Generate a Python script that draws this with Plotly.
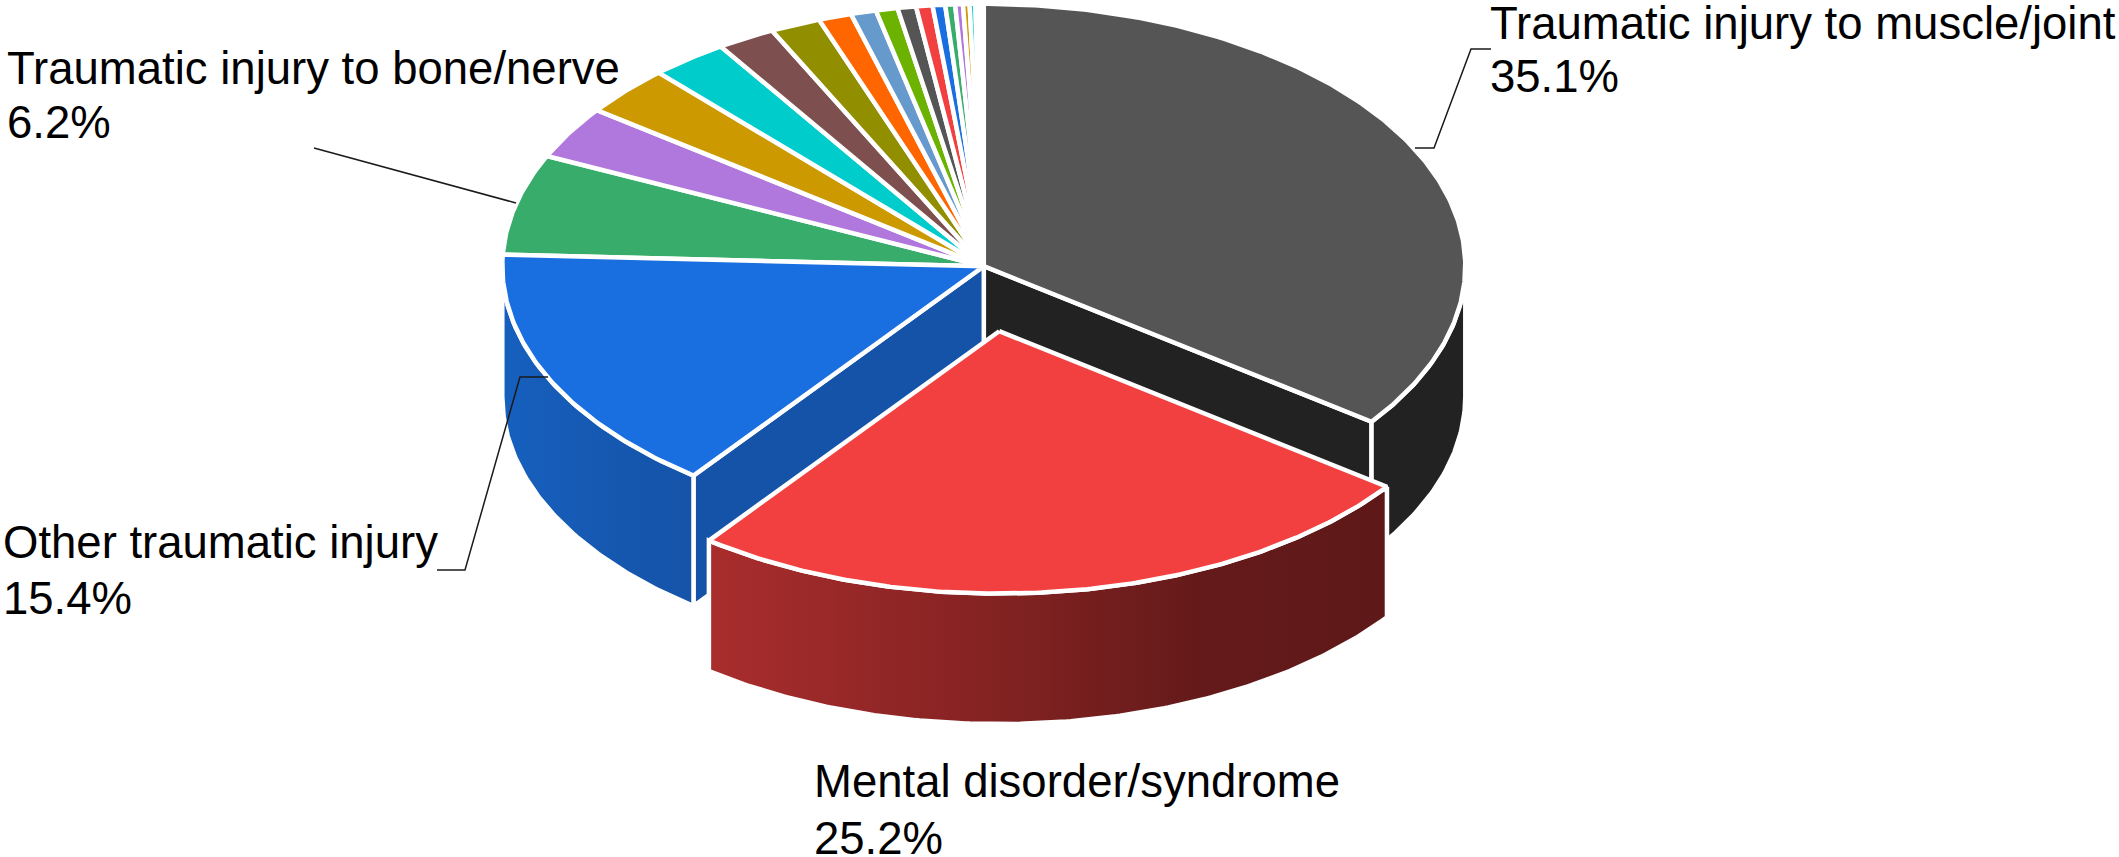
import numpy as np
import plotly.graph_objects as go

W, H = 2119, 857

# Share of each category, clockwise from twelve o'clock
values = [35.1, 25.2, 15.4, 6.2, 3.24, 3.06, 2.6, 1.95, 1.69, 1.11, 0.85, 0.73,
          0.62, 0.55, 0.42, 0.33, 0.26, 0.22, 0.19, 0.09, 0.09, 0.1]
top_colors = ["#555555", "#F24040", "#1A6FE0", "#38AD6B", "#B077DD", "#CC9900",
              "#00CCCC", "#7D4F4F", "#918F00", "#FF6600", "#6699CC", "#6BB300",
              "#555555", "#F24040", "#1A6FE0", "#38AD6B", "#B077DD", "#CC9900",
              "#00CCCC", "#7D4F4F", "#918F00", "#FF6600"]
label_names = ["Traumatic injury to muscle/joint", "Mental disorder/syndrome",
               "Other traumatic injury", "Traumatic injury to bone/nerve"]
label_left = [1488, 812, 1, 5]
label_name_y = [23, 781, 542, 68]
label_value_y = [76, 838, 598, 122]

# Projection of the pie disc, in units of the disc radius
RADIUS_PX = 481.5
CENTER_PX = (983.8, 266.2)
TILT = 0.545
DEPTH = 0.271
RED_SHIFT = (0.032, -0.135)
EDGE = "#FFFFFF"
EDGE_W = 4.5


def to_x(px):
    return (px - CENTER_PX[0]) / RADIUS_PX


def to_y(py):
    return (CENTER_PX[1] - py) / RADIUS_PX


def rim(a0, a1, shift=(0, 0), drop=0.0):
    t = np.radians(np.linspace(a0, a1, max(int(abs(a1 - a0) * 2), 2) + 1))
    return np.sin(t) + shift[0], np.cos(t) * TILT + shift[1] - drop


def closed(*parts):
    xs = np.concatenate([np.atleast_1d(p[0]) for p in parts])
    ys = np.concatenate([np.atleast_1d(p[1]) for p in parts])
    return np.append(xs, xs[0]), np.append(ys, ys[0])


def add_poly(fig, x, y, color=None, gradient=None, name=None):
    style = dict(fillgradient=gradient) if gradient else dict(fillcolor=color)
    fig.add_trace(go.Scatter(x=x, y=y, mode="lines", fill="toself",
                             line=dict(color=EDGE, width=EDGE_W),
                             hoverinfo="skip", name=name, **style))


def top_face(fig, a0, a1, color, shift=(0, 0)):
    rx, ry = rim(a0, a1, shift)
    x, y = closed((shift[0], shift[1]), (rx, ry))
    add_poly(fig, x, y, color)


def outer_wall(fig, a0, a1, color=None, gradient=None, shift=(0, 0)):
    tx, ty = rim(a0, a1, shift)
    bx, by = rim(a1, a0, shift, DEPTH)
    x, y = closed((tx, ty), (bx, by))
    add_poly(fig, x, y, color, gradient)


def cut_wall(fig, a, color):
    ex, ey = rim(a, a)
    x = [0, ex[0], ex[0], 0, 0]
    y = [0, ey[0], ey[0] - DEPTH, -DEPTH, 0]
    add_poly(fig, x, y, color)


fracs = np.cumsum([0] + values) / sum(values) * 360
fig = go.Figure()

# Slices along the back have no visible side
for i in range(3, len(values)):
    top_face(fig, fracs[i], fracs[i + 1], top_colors[i])

# Largest slice, with the cut face left open by the pulled-out slice
cut_wall(fig, fracs[1], "#222222")
outer_wall(fig, 90, fracs[1], "#222222")
top_face(fig, fracs[0], fracs[1], top_colors[0])

# Blue slice and its shaded side
cut_wall(fig, fracs[2], "#1453A8")
outer_wall(fig, fracs[2], 270, gradient=dict(
    type="horizontal",
    colorscale=[[0, "#1660BE"], [0.5, "#1659B2"], [1, "#1453A8"]]))
top_face(fig, fracs[2], fracs[3], top_colors[2])

# Pulled-out red slice, drawn last so it sits in front
outer_wall(fig, fracs[1], fracs[2], shift=RED_SHIFT, gradient=dict(
    type="horizontal",
    colorscale=[[0, "#A92D2D"], [0.42, "#842222"], [0.72, "#651A1A"], [1, "#5E1818"]]))
top_face(fig, fracs[1], fracs[2], top_colors[1], shift=RED_SHIFT)

# Leader lines from the labels to their slices
leaders = [
    ([1415, 1434, 1471, 1491], [148, 148, 49, 49]),
    ([314, 516], [148, 203]),
    ([548, 520, 465, 437], [377, 377, 570, 570]),
]
for lx, ly in leaders:
    fig.add_trace(go.Scatter(x=[to_x(v) for v in lx], y=[to_y(v) for v in ly],
                             mode="lines", line=dict(color="#1A1A1A", width=1.5),
                             hoverinfo="skip"))

# Two-line labels: category name above its share
font = dict(family="Liberation Sans, Arial, sans-serif", size=45.5, color="#000000")
for i, name in enumerate(label_names):
    for text, py in ((name, label_name_y[i]), (f"{values[i]:.1f}%", label_value_y[i])):
        fig.add_annotation(x=to_x(label_left[i]), y=to_y(py), text=text, showarrow=False,
                           xanchor="left", yanchor="middle", font=font)

fig.update_layout(
    width=W, height=H, margin=dict(l=0, r=0, t=0, b=0),
    paper_bgcolor="#FFFFFF", plot_bgcolor="#FFFFFF", showlegend=False,
    xaxis=dict(range=[to_x(0), to_x(W)], visible=False, fixedrange=True),
    yaxis=dict(range=[to_y(H), to_y(0)], visible=False, fixedrange=True),
)
fig.write_html("out.html")
